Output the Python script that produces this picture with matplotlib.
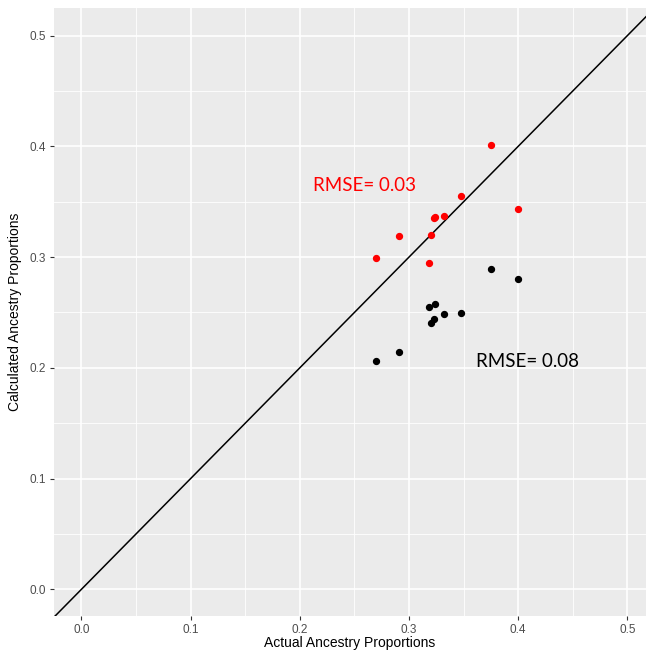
import numpy as np
import matplotlib.pyplot as plt
from matplotlib.ticker import MultipleLocator

plt.rcParams['font.family'] = ['Liberation Sans', 'DejaVu Sans']

# actual vs calculated ancestry proportions
actual = [0.270, 0.291, 0.318, 0.320, 0.3226, 0.324, 0.332, 0.348, 0.375, 0.400]
calc_red = [0.299, 0.319, 0.295, 0.320, 0.335, 0.336, 0.337, 0.355, 0.401, 0.343]
calc_black = [0.2064, 0.214, 0.255, 0.2405, 0.2445, 0.258, 0.249, 0.2495, 0.289, 0.280]

fig = plt.figure(figsize=(6.46, 6.55), dpi=100)
ax = fig.add_axes([0.0836, 0.0595, 0.9164, 0.9285])
ax.set_facecolor('#EBEBEB')

ax.set_xlim(-0.025, 0.517)
ax.set_ylim(-0.024, 0.525)
ax.xaxis.set_major_locator(MultipleLocator(0.1))
ax.yaxis.set_major_locator(MultipleLocator(0.1))
ax.xaxis.set_minor_locator(MultipleLocator(0.05))
ax.yaxis.set_minor_locator(MultipleLocator(0.05))
ax.grid(which='major', color='white', linewidth=1.2)
ax.grid(which='minor', color='white', linewidth=0.6)
ax.set_axisbelow(True)
for s in ax.spines.values():
    s.set_visible(False)
ax.tick_params(which='major', length=3, color='#333333', labelcolor='#4D4D4D', labelsize=8.5, pad=3)
ax.tick_params(which='minor', length=0)
ax.xaxis.set_major_formatter(plt.FuncFormatter(lambda v, p: '%.1f' % v))
ax.yaxis.set_major_formatter(plt.FuncFormatter(lambda v, p: '%.1f' % v))

ax.axline((0, 0), slope=1, color='black', linewidth=1.1)

ax.scatter(actual, calc_red, s=18, color='#FF0000', zorder=3)
ax.scatter(actual, calc_black, s=18, color='black', zorder=3)

ax.text(0.2125, 0.365, 'RMSE= 0.03', color='#FF0000', fontsize=13.5,
        family=['Lato', 'DejaVu Sans'], va='center', ha='left')
ax.text(0.361, 0.206, 'RMSE= 0.08', color='black', fontsize=13.5,
        family=['Lato', 'DejaVu Sans'], va='center', ha='left')

ax.set_xlabel('Actual Ancestry Proportions', fontsize=10, labelpad=0)
ax.set_ylabel('Calculated Ancestry Proportions', fontsize=10, labelpad=5)

fig.savefig('out.png', dpi=100)
